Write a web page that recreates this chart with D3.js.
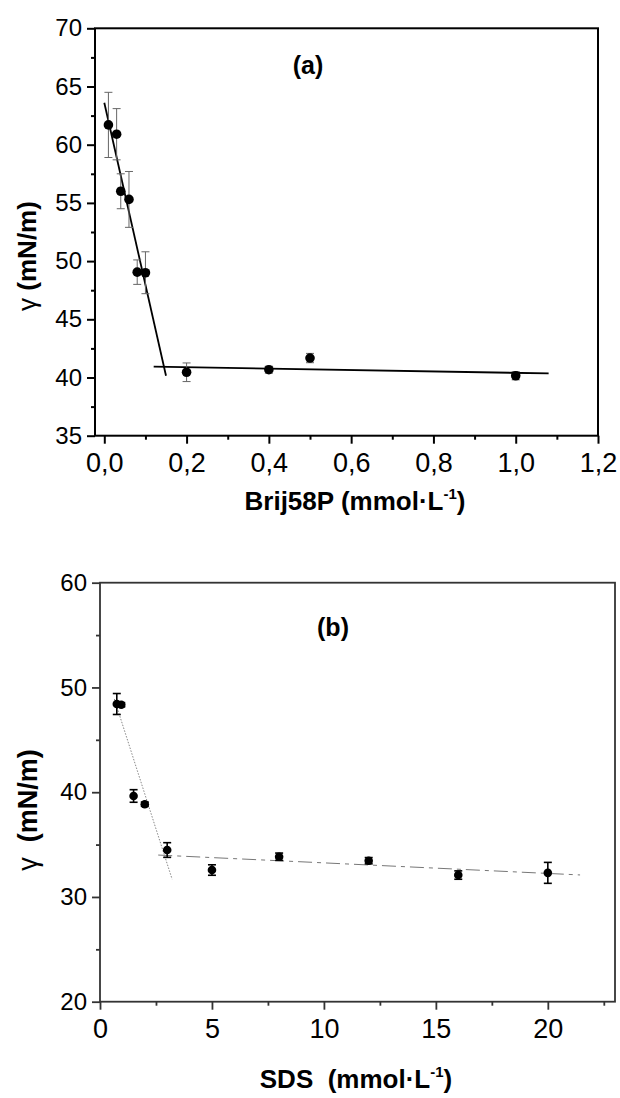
<!DOCTYPE html>
<html>
<head>
<meta charset="utf-8">
<script src="https://cdn.jsdelivr.net/npm/d3@7"></script>
<style>
  body { margin: 0; background: #fff; }
  svg { display: block; }
</style>
</head>
<body>
<svg id="fig" width="620" height="1098"></svg>
<script>
// ---- Panel (a): Brij58P ----
const brijConc  = [0.01, 0.03, 0.04, 0.06, 0.08, 0.10, 0.20, 0.40, 0.50, 1.00];
const brijGamma = [61.7, 60.9, 56.0, 55.3, 49.05, 49.0, 40.45, 40.67, 41.67, 40.15];
const brijErr   = [2.8, 2.2, 1.5, 2.4, 1.05, 1.8, 0.8, 0.3, 0.4, 0.35];
// linear fits below / above the break (endpoints)
const brijFitLow  = [[0.0, 63.6], [0.15, 40.15]];
const brijFitHigh = [[0.12, 40.93], [1.08, 40.35]];
const brijXTicks = [0, 0.2, 0.4, 0.6, 0.8, 1.0, 1.2];
const brijXMinor = [0.1, 0.3, 0.5, 0.7, 0.9, 1.1];
const brijYTicks = [35, 40, 45, 50, 55, 60, 65, 70];
const brijYMinor = [37.5, 42.5, 47.5, 52.5, 57.5, 62.5, 67.5];

// ---- Panel (b): SDS ----
const sdsConc  = [0.75, 0.95, 1.5, 2.0, 3.0, 5.0, 8.0, 12.0, 16.0, 20.0];
const sdsGamma = [48.42, 48.35, 39.64, 38.85, 34.48, 32.57, 33.84, 33.46, 32.09, 32.3];
const sdsErr   = [1.0, 0.2, 0.6, 0.2, 0.7, 0.5, 0.35, 0.3, 0.4, 1.0];
const sdsFitLow  = [[0.64, 48.9], [3.22, 31.7]];
const sdsFitHigh = [[2.6, 34.0], [21.44, 32.1]];
const sdsXTicks = [0, 5, 10, 15, 20];
const sdsXMinor = [2.5, 7.5, 12.5, 17.5, 22.5];
const sdsYTicks = [20, 30, 40, 50, 60];
const sdsYMinor = [25, 35, 45, 55];

const FONT = '"Liberation Sans", Arial, Helvetica, sans-serif';
const svg = d3.select('#fig');

function drawPanel(p) {
  const x = d3.scaleLinear().domain(p.xDomain).range([p.left, p.right]);
  const y = d3.scaleLinear().domain(p.yDomain).range([p.bottom, p.top]);
  const g = svg.append('g');

  // plot frame
  g.append('rect')
    .attr('x', p.left).attr('y', p.top)
    .attr('width', p.right - p.left).attr('height', p.bottom - p.top)
    .attr('fill', 'none').attr('stroke', p.axisColor).attr('stroke-width', p.axisWidth);

  const styleAxis = sel => {
    sel.select('.domain').remove();
    sel.selectAll('line').attr('stroke', p.axisColor).attr('stroke-width', p.axisWidth);
    sel.selectAll('text').attr('fill', '#000').style('font-family', FONT);
  };

  // x axis: major + minor ticks
  g.append('g').attr('transform', `translate(0,${p.bottom})`)
    .call(d3.axisBottom(x).tickValues(p.xTicks).tickSize(8).tickPadding(9).tickFormat(p.xFormat))
    .call(styleAxis)
    .selectAll('text').style('font-size', '27px');
  g.append('g').attr('transform', `translate(0,${p.bottom})`)
    .call(d3.axisBottom(x).tickValues(p.xMinor).tickSize(4).tickFormat(''))
    .call(styleAxis);

  // y axis: major + minor ticks
  g.append('g').attr('transform', `translate(${p.left},0)`)
    .call(d3.axisLeft(y).tickValues(p.yTicks).tickSize(8).tickPadding(5).tickFormat(d3.format('d')))
    .call(styleAxis)
    .selectAll('text').style('font-size', '24px');
  g.append('g').attr('transform', `translate(${p.left},0)`)
    .call(d3.axisLeft(y).tickValues(p.yMinor).tickSize(4).tickFormat(''))
    .call(styleAxis);

  // fitted lines
  const line = d3.line().x(d => x(d[0])).y(d => y(d[1]));
  [p.fitLow, p.fitHigh].forEach((pts, i) => {
    g.append('path').attr('d', line(pts))
      .attr('fill', 'none')
      .attr('stroke', p.fitColor[i])
      .attr('stroke-width', p.fitWidth)
      .attr('stroke-dasharray', p.fitDash[i]);
  });

  // error bars
  const cap = p.capWidth / 2;
  const eb = g.append('g').attr('stroke', p.errColor).attr('stroke-width', p.errWidth);
  p.conc.forEach((c, i) => {
    const cx = x(c), y1 = y(p.gamma[i] + p.err[i]), y2 = y(p.gamma[i] - p.err[i]);
    eb.append('line').attr('x1', cx).attr('x2', cx).attr('y1', y1).attr('y2', y2);
    eb.append('line').attr('x1', cx - cap).attr('x2', cx + cap).attr('y1', y1).attr('y2', y1);
    eb.append('line').attr('x1', cx - cap).attr('x2', cx + cap).attr('y1', y2).attr('y2', y2);
  });

  // data points
  g.append('g').selectAll('circle')
    .data(p.conc.map((c, i) => [c, p.gamma[i]]))
    .join('circle')
    .attr('cx', d => x(d[0])).attr('cy', d => y(d[1]))
    .attr('r', p.r).attr('fill', '#000');

  // panel tag
  g.append('text').attr('x', p.tag.x).attr('y', p.tag.y)
    .attr('text-anchor', 'middle')
    .style('font-family', FONT).style('font-weight', 'bold').style('font-size', '25px')
    .text(p.tag.text);

  // x title with superscript
  const xt = g.append('text').attr('x', p.xTitle.x).attr('y', p.xTitle.y)
    .attr('text-anchor', 'middle')
    .style('font-family', FONT).style('font-weight', 'bold').style('font-size', '26px')
    .attr('xml:space', 'preserve');
  xt.append('tspan').text(p.xTitle.text);
  xt.append('tspan').attr('dy', -11).style('font-size', '15px').text('-1');
  xt.append('tspan').attr('dy', 11).text(')');

  // y title
  const yt = g.append('text')
    .attr('transform', `translate(${p.yTitle.x},${p.yTitle.y}) rotate(-90)`)
    .attr('text-anchor', 'middle')
    .style('font-family', FONT).style('font-weight', 'bold').style('font-size', p.yTitle.size + 'px')
    .attr('xml:space', 'preserve');
  yt.append('tspan').style('font-weight', 'normal').text('γ');
  yt.append('tspan').text(p.yTitle.text);
}

drawPanel({
  left: 95, right: 598, top: 28.3, bottom: 435.7,
  xDomain: [-0.0226, 1.2], yDomain: [35, 70],
  xTicks: brijXTicks, xMinor: brijXMinor, yTicks: brijYTicks, yMinor: brijYMinor,
  xFormat: d => d3.format('.1f')(d).replace('.', ','),
  axisColor: '#000', axisWidth: 2,
  conc: brijConc, gamma: brijGamma, err: brijErr,
  fitLow: brijFitLow, fitHigh: brijFitHigh,
  fitColor: ['#000', '#000'], fitWidth: 1.8, fitDash: [null, null],
  errColor: '#666', errWidth: 1, capWidth: 8, r: 4.8,
  tag: { x: 308, y: 74, text: '(a)' },
  xTitle: { x: 355, y: 510, text: 'Brij58P (mmol·L' },
  yTitle: { x: 36, y: 256, size: 26, text: ' (mN/m)' }
});

drawPanel({
  left: 100, right: 615, top: 582.7, bottom: 1001.7,
  xDomain: [0, 23], yDomain: [20, 60],
  xTicks: sdsXTicks, xMinor: sdsXMinor, yTicks: sdsYTicks, yMinor: sdsYMinor,
  xFormat: d3.format('d'),
  axisColor: '#333', axisWidth: 1.8,
  conc: sdsConc, gamma: sdsGamma, err: sdsErr,
  fitLow: sdsFitLow, fitHigh: sdsFitHigh,
  fitColor: ['#888', '#777'], fitWidth: 1, fitDash: ['1.5,1.5', '14,5,4,5'],
  errColor: '#000', errWidth: 1.6, capWidth: 8, r: 4.3,
  tag: { x: 333, y: 636, text: '(b)' },
  xTitle: { x: 356, y: 1088, text: 'SDS  (mmol·L' },
  yTitle: { x: 37, y: 810, size: 27, text: '  (mN/m)' }
});
</script>
</body>
</html>
